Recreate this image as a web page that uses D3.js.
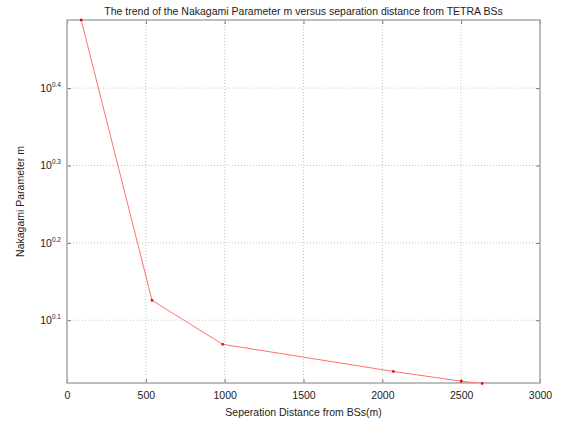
<!DOCTYPE html>
<html>
<head>
<meta charset="utf-8">
<script src="https://cdn.jsdelivr.net/npm/d3@7"></script>
<style>
  body { margin: 0; background: #fff; }
  text { font-family: "Liberation Sans", Arial, sans-serif; fill: #222; }
</style>
</head>
<body>
<div id="chart"></div>
<script>
// data
const distance = [90, 539, 987, 2070, 2500, 2633];
const nakagamiM = [3.076, 1.336, 1.172, 1.081, 1.050, 1.043];
const xTicks = [0, 500, 1000, 1500, 2000, 2500, 3000];
const yTickExp = [0.1, 0.2, 0.3, 0.4];

const width = 563, height = 421;
const margin = { top: 20, right: 23, bottom: 38, left: 67 };

const svg = d3
  .select("#chart")
  .append("svg")
  .attr("width", width)
  .attr("height", height);

const x = d3
  .scaleLinear()
  .domain([0, 3000])
  .range([margin.left, width - margin.right]);

const y = d3
  .scaleLog()
  .domain([Math.pow(10, 0.0189), Math.pow(10, 0.488)])
  .range([height - margin.bottom, margin.top]);

const plotW = width - margin.right - margin.left;
const plotH = height - margin.bottom - margin.top;

//grid lines
svg
  .append("g")
  .selectAll("line")
  .data(xTicks.slice(1, -1))
  .enter()
  .append("line")
  .attr("x1", (d) => x(d))
  .attr("x2", (d) => x(d))
  .attr("y1", margin.top)
  .attr("y2", height - margin.bottom)
  .attr("stroke", "#c4c4c4")
  .attr("stroke-dasharray", "1,2");

svg
  .append("g")
  .selectAll("line")
  .data(yTickExp)
  .enter()
  .append("line")
  .attr("x1", margin.left)
  .attr("x2", width - margin.right)
  .attr("y1", (d) => y(Math.pow(10, d)))
  .attr("y2", (d) => y(Math.pow(10, d)))
  .attr("stroke", "#c4c4c4")
  .attr("stroke-dasharray", "1,2");

//axes (ticks inward on all four sides)
const xAxis = d3.axisBottom(x).tickValues(xTicks).tickSize(-4).tickPadding(9).tickFormat(d3.format("d"));
const xAxisTop = d3.axisTop(x).tickValues(xTicks).tickSize(-4).tickFormat("");
const yAxis = d3.axisLeft(y).tickValues(yTickExp.map((e) => Math.pow(10, e))).tickSize(-4).tickFormat("");
const yAxisRight = d3.axisRight(y).tickValues(yTickExp.map((e) => Math.pow(10, e))).tickSize(-4).tickFormat("");

function styleAxis(g) {
  g.select(".domain").remove();
  g.selectAll(".tick line").attr("stroke", "#777");
  g.selectAll("text").style("font-size", "10.5px").attr("fill", "#222");
}

svg.append("g").attr("transform", `translate(0,${height - margin.bottom})`).call(xAxis).call(styleAxis);
svg.append("g").attr("transform", `translate(0,${margin.top})`).call(xAxisTop).call(styleAxis);
svg.append("g").attr("transform", `translate(${margin.left},0)`).call(yAxis).call(styleAxis);
svg.append("g").attr("transform", `translate(${width - margin.right},0)`).call(yAxisRight).call(styleAxis);

//y tick labels as 10^exp
const yLab = svg
  .append("g")
  .selectAll("text")
  .data(yTickExp)
  .enter()
  .append("text")
  .attr("x", margin.left - 6)
  .attr("y", (d) => y(Math.pow(10, d)) + 4)
  .attr("text-anchor", "end")
  .style("font-size", "10.5px");
yLab.append("tspan").text("10");
yLab
  .append("tspan")
  .attr("dy", -5)
  .style("font-size", "6.5px")
  .text((d) => d.toFixed(1));

//frame
svg
  .append("rect")
  .attr("x", margin.left)
  .attr("y", margin.top)
  .attr("width", plotW)
  .attr("height", plotH)
  .attr("fill", "none")
  .attr("stroke", "#a8a8a8")
  .attr("stroke-width", 1.5);

//clip for the line
svg
  .append("clipPath")
  .attr("id", "plotClip")
  .append("rect")
  .attr("x", margin.left)
  .attr("y", margin.top)
  .attr("width", plotW)
  .attr("height", plotH);

const points = distance.map((d, i) => ({ d: d, m: nakagamiM[i] }));

const line = d3
  .line()
  .x((p) => x(p.d))
  .y((p) => y(p.m));

svg
  .append("path")
  .datum(points)
  .attr("clip-path", "url(#plotClip)")
  .attr("d", line)
  .attr("fill", "none")
  .attr("stroke", "#ff7070")
  .attr("stroke-width", 1);

svg
  .append("g")
  .selectAll("rect")
  .data(points)
  .enter()
  .append("rect")
  .attr("x", (p) => x(p.d) - 1.2)
  .attr("y", (p) => y(p.m) - 1.2)
  .attr("width", 2.4)
  .attr("height", 2.4)
  .attr("fill", "#e00000");

//title and axis labels
svg
  .append("text")
  .attr("x", (margin.left + width - margin.right) / 2)
  .attr("y", 15)
  .attr("text-anchor", "middle")
  .style("font-size", "10.5px")
  .text("The trend of the Nakagami Parameter m versus separation distance from TETRA BSs");

svg
  .append("text")
  .attr("x", (margin.left + width - margin.right) / 2)
  .attr("y", 416)
  .attr("text-anchor", "middle")
  .style("font-size", "10.5px")
  .text("Seperation Distance from BSs(m)");

svg
  .append("text")
  .attr("transform", `translate(24,${(margin.top + height - margin.bottom) / 2}) rotate(-90)`)
  .attr("text-anchor", "middle")
  .style("font-size", "10.5px")
  .text("Nakagami Parameter m");
</script>
</body>
</html>
